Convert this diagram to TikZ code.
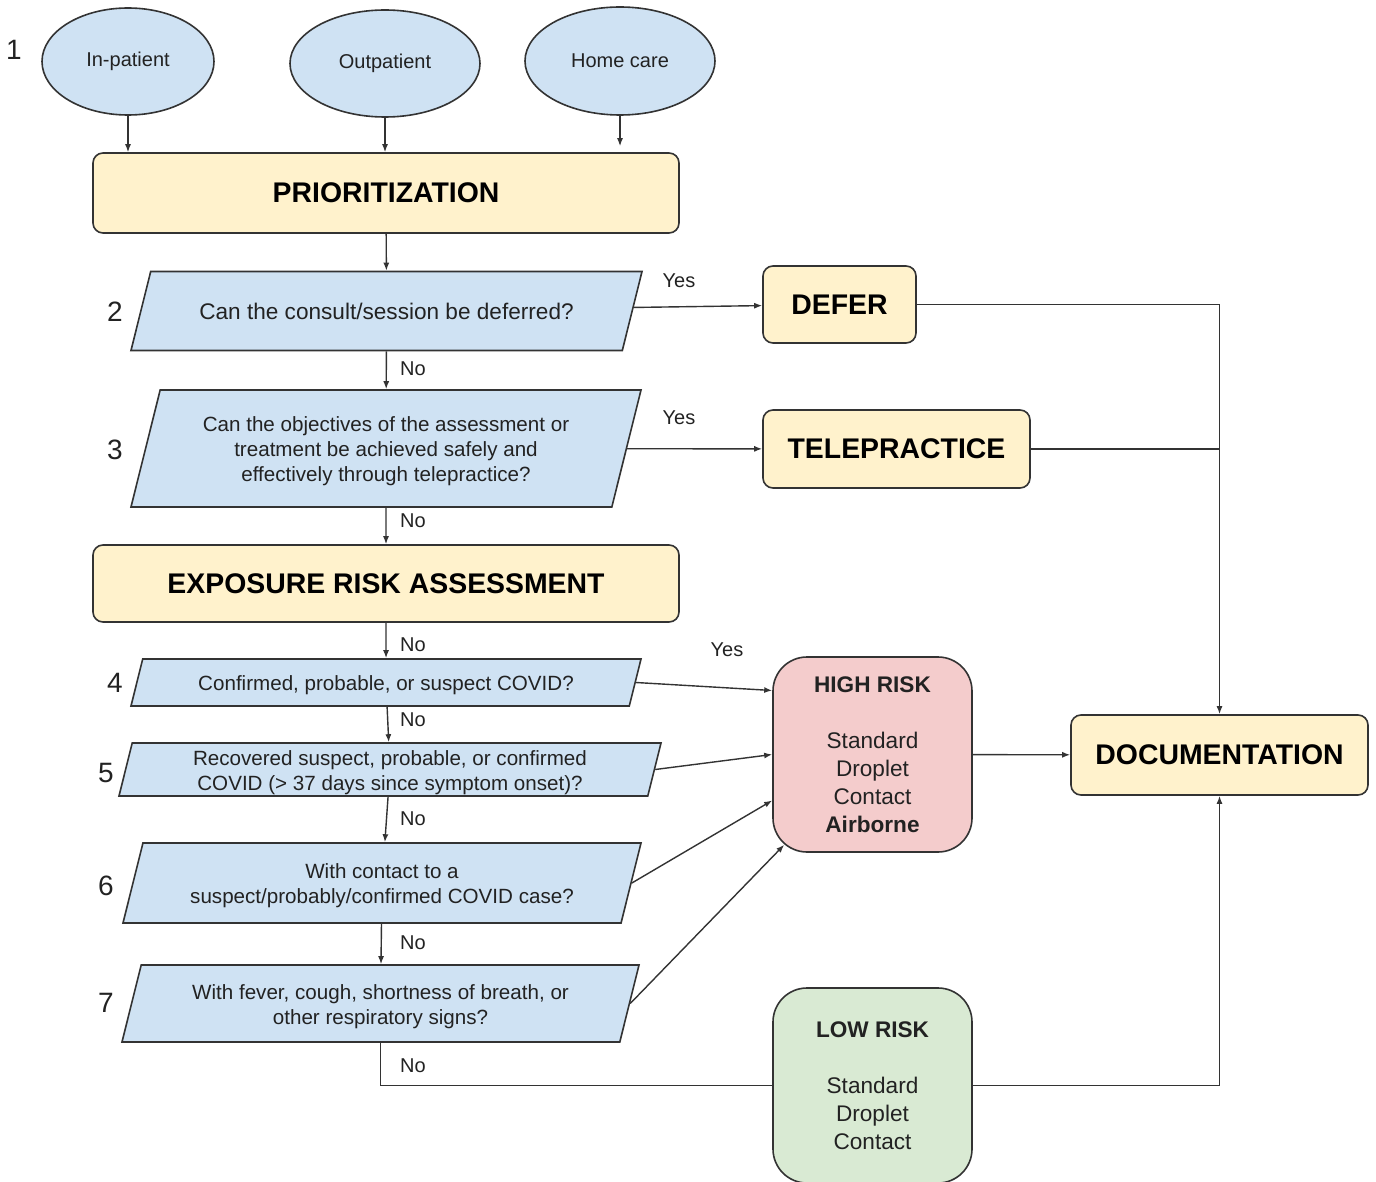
\documentclass[tikz,border=0pt]{standalone}
\usepackage{fontspec}
\setmainfont{Liberation Sans}
\usepackage{tikz}
\usetikzlibrary{positioning}
\usetikzlibrary{arrows.meta}
\usetikzlibrary{shapes.geometric}

\definecolor{edge}{HTML}{333333}
\definecolor{ink}{HTML}{222222}
\definecolor{qblue}{HTML}{CFE2F3}
\definecolor{qyellow}{HTML}{FFF2CC}
\definecolor{qred}{HTML}{F4CCCC}
\definecolor{qgreen}{HTML}{D9EAD3}

% question text in a box of fixed height, so the slant follows the height
\newcommand{\qlines}[2]{\vbox to #1{\vss\vskip3pt\hbox{\begin{tabular}{@{}c@{}}#2\end{tabular}}\vss}}

\tikzset{
  oval/.style={ellipse, draw=edge, line width=0.8pt, fill=qblue, text=ink, font=\fontsize{10}{12}\selectfont},
  stage/.style={rectangle, rounded corners=5pt, draw=edge, line width=0.8pt, fill=qyellow, font=\fontsize{14.2}{16}\selectfont\bfseries},
  query/.style={trapezium, trapezium left angle=76, trapezium right angle=104, trapezium stretches body,
    draw=edge, line width=0.8pt, fill=qblue, inner xsep=0pt, inner ysep=0pt, text=ink, font=\fontsize{10.3}{12.5}\selectfont},
  risk/.style={rectangle, rounded corners=17pt, draw=edge, line width=0.8pt, align=center,
    minimum width=99.5pt, minimum height=97.5pt, text=ink, font=\fontsize{11.3}{14}\selectfont},
  tag/.style={text=ink, font=\fontsize{10}{12}\selectfont},
  num/.style={text=ink, font=\fontsize{14}{16}\selectfont},
  flow/.style={draw=edge, line width=0.7pt, -{Latex[length=4pt,width=3pt]}},
  link/.style={draw=edge, line width=0.7pt}
}

\begin{document}
\begin{tikzpicture}[x=0.5pt, y=-0.5pt]
  \useasboundingbox (0,0) rectangle (1376,1182);
  % nodes %
  \node[oval, minimum width=86pt, minimum height=53.5pt] (inpat) at (128,61.5) {In-patient};
  \node[oval, minimum width=95pt, minimum height=53.5pt] (outpat) at (385,63.5) {Outpatient};
  \node[oval, minimum width=95pt, minimum height=54pt] (home) at (620,61) {Home care};
  \node[stage, minimum width=293pt, minimum height=40pt] (prior) at (386,193) {PRIORITIZATION};
  \node[query, minimum width=255.5pt, font=\fontsize{11.3}{13}\selectfont] (q2) at (386.5,311) {\qlines{39.5pt}{Can the consult/session be deferred?}};
  \node[stage, minimum width=76.5pt, minimum height=38.5pt] (defer) at (839.5,304.5) {DEFER};
  \node[query, minimum width=255pt] (q3) at (386,448.5) {\qlines{58.5pt}{Can the objectives of the assessment or\\treatment be achieved safely and\\effectively through telepractice?}};
  \node[stage, minimum width=133.5pt, minimum height=39pt] (tele) at (896.5,449) {TELEPRACTICE};
  \node[stage, minimum width=293pt, minimum height=38.5pt] (expo) at (386,583.5) {EXPOSURE RISK ASSESSMENT};
  \node[query, minimum width=255pt] (q4) at (386,682.5) {\qlines{23.5pt}{Confirmed, probable, or suspect COVID?}};
  \node[query, minimum width=271pt] (q5) at (390,769.5) {\qlines{26.5pt}{Recovered suspect, probable, or confirmed\\COVID (> 37 days since symptom onset)?}};
  \node[query, minimum width=259pt] (q6) at (382,883) {\qlines{40pt}{With contact to a\\suspect/probably/confirmed COVID case?}};
  \node[query, minimum width=258.5pt] (q7) at (380.5,1003.5) {\qlines{38.5pt}{With fever, cough, shortness of breath, or\\other respiratory signs?}};
  \node[risk, fill=qred] (high) at (872.5,754.5) {\textbf{HIGH RISK}\\[14pt]Standard\\Droplet\\Contact\\\textbf{Airborne}};
  \node[risk, fill=qgreen] (low) at (872.5,1085.5) {\textbf{LOW RISK}\\[14pt]Standard\\Droplet\\Contact};
  \node[stage, minimum width=148.5pt, minimum height=40pt] (doc) at (1219.5,755) {DOCUMENTATION};
  % step numbers %
  \node[num] (n1) at (14,50) {1};
  \node[num] (n2) at (115,312) {2};
  \node[num] (n3) at (115,450) {3};
  \node[num] (n4) at (115,683) {4};
  \node[num] (n5) at (106,773) {5};
  \node[num] (n6) at (106,886) {6};
  \node[num] (n7) at (106,1003) {7};
  % answers %
  \node[tag] (yes2) at (679,281) {Yes};
  \node[tag] (yes3) at (679,418) {Yes};
  \node[tag] (yes4) at (727,650) {Yes};
  \node[tag] (no2) at (413,369) {No};
  \node[tag] (no3) at (413,521) {No};
  \node[tag] (noexpo) at (413,645) {No};
  \node[tag] (no4) at (413,720) {No};
  \node[tag] (no5) at (413,819) {No};
  \node[tag] (no6) at (413,943) {No};
  \node[tag] (no7) at (413,1066) {No};
  % edges %
  \draw[flow] (inpat) -- (inpat |- prior.north);
  \draw[flow] (outpat) -- (outpat |- prior.north);
  \draw[flow, shorten >=3pt] (home) -- (home |- prior.north);
  \draw[flow] (prior) -- (q2);
  \draw[flow] (q2) -- (defer);
  \draw[flow] (q2) -- (q3);
  \draw[flow] (q3) -- (tele);
  \draw[flow] (q3) -- (expo);
  \draw[flow] (expo) -- (q4);
  \draw[flow] (q4) -- (q5);
  \draw[flow] (q5) -- (q6);
  \draw[flow] (q6) -- (q7);
  \draw[flow] (q4.east) -- ([yshift=32pt]high.west);
  \draw[flow] (q5.east) -- (high.west);
  \draw[flow] (q6.east) -- ([yshift=-23pt]high.west);
  \draw[flow] (q7.east) -- ([xshift=6pt,yshift=4pt]high.south west);
  \draw[link] (q7) |- (low);
  \draw[flow] (defer) -| (doc);
  \draw[link] (tele.east) -- (tele.east -| doc.north);
  \draw[flow] (high) -- (doc);
  \draw[flow] (low) -| (doc);
\end{tikzpicture}
\end{document}
